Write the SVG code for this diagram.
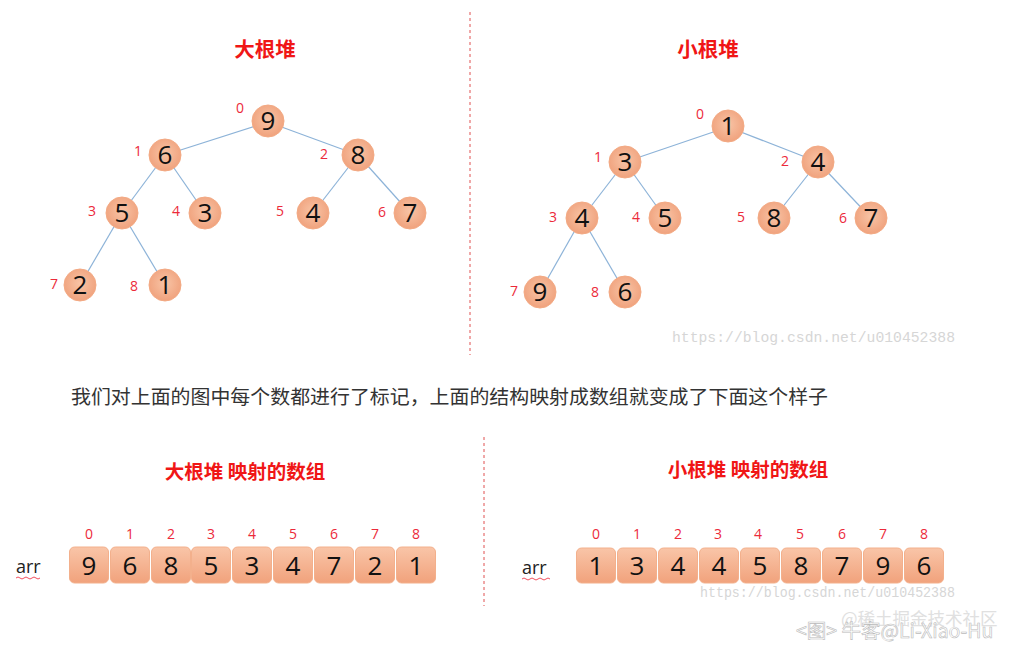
<svg xmlns="http://www.w3.org/2000/svg" width="1018" height="652" viewBox="0 0 1018 652">
<defs>
<radialGradient id="cg" cx="50%" cy="45%" r="55%">
<stop offset="0" stop-color="#f8c4a6"/>
<stop offset="1" stop-color="#f0a27d"/>
</radialGradient>
<linearGradient id="bg" x1="0" y1="0" x2="0" y2="1">
<stop offset="0" stop-color="#f9c5a8"/>
<stop offset="1" stop-color="#f1a27c"/>
</linearGradient>
<style>
.n circle{fill:url(#cg);stroke:#f3aa84;stroke-width:1}
.n text,.b text{font-family:"Open Sans","Liberation Sans",sans-serif;font-size:26px;fill:#111;text-anchor:middle}
.b rect{fill:url(#bg);stroke:#f3b08c;stroke-width:1}
.idx{font-family:"Open Sans","Liberation Sans",sans-serif;font-size:14px;fill:#ec2a3a;text-anchor:middle}
.edge{stroke:#8db3d8;stroke-width:1.2;fill:none}
.title{font-family:"Noto Sans CJK SC",sans-serif;font-weight:bold;fill:#f01616;text-anchor:middle}
.dash{stroke:#e05050;stroke-width:1;stroke-dasharray:3 3}
.wm{font-family:"Liberation Mono",monospace;font-size:14.7px;fill:#d6d6d6}
.arr{font-family:"Open Sans","Liberation Sans",sans-serif;font-size:18px;fill:#222}
</style>
</defs>
<rect width="1018" height="652" fill="#fff"/>
<line class="dash" x1="470" y1="12" x2="470" y2="355"/>
<line class="dash" x1="484" y1="437" x2="484" y2="606"/>
<text class="title" x="265" y="57" font-size="20.5">大根堆</text>
<text class="title" x="708" y="57" font-size="20.5">小根堆</text>
<g id="connectors">
<line class="edge" x1="268" y1="122" x2="165" y2="155"/>
<line class="edge" x1="268" y1="122" x2="358" y2="155"/>
<line class="edge" x1="165" y1="155" x2="122" y2="213"/>
<line class="edge" x1="165" y1="155" x2="205" y2="213"/>
<line class="edge" x1="358" y1="155" x2="313" y2="213"/>
<line class="edge" x1="358" y1="155" x2="410" y2="213"/>
<line class="edge" x1="122" y1="213" x2="80" y2="285"/>
<line class="edge" x1="122" y1="213" x2="165" y2="285"/>
<line class="edge" x1="728" y1="127" x2="625" y2="162"/>
<line class="edge" x1="728" y1="127" x2="818" y2="162"/>
<line class="edge" x1="625" y1="162" x2="582" y2="218"/>
<line class="edge" x1="625" y1="162" x2="665" y2="218"/>
<line class="edge" x1="818" y1="162" x2="774" y2="218"/>
<line class="edge" x1="818" y1="162" x2="871" y2="218"/>
<line class="edge" x1="582" y1="218" x2="540" y2="292"/>
<line class="edge" x1="582" y1="218" x2="625" y2="292"/>
</g>
<g id="maxheap">
<g id="L0" class="n"><circle cx="268" cy="121" r="16"/><text x="268" y="130">9</text></g>
<g id="L1" class="n"><circle cx="165" cy="155" r="16"/><text x="165" y="164">6</text></g>
<g id="L2" class="n"><circle cx="358" cy="155" r="16"/><text x="358" y="164">8</text></g>
<g id="L3" class="n"><circle cx="122" cy="213" r="16"/><text x="122" y="222">5</text></g>
<g id="L4" class="n"><circle cx="205" cy="213" r="16"/><text x="205" y="222">3</text></g>
<g id="L5" class="n"><circle cx="313" cy="213" r="16"/><text x="313" y="222">4</text></g>
<g id="L6" class="n"><circle cx="410" cy="213" r="16"/><text x="410" y="222">7</text></g>
<g id="L7" class="n"><circle cx="80" cy="285" r="16"/><text x="80" y="294">2</text></g>
<g id="L8" class="n"><circle cx="165" cy="285" r="16"/><text x="165" y="294">1</text></g>
<text class="idx" x="240" y="113">0</text>
<text class="idx" x="138" y="156">1</text>
<text class="idx" x="324" y="159">2</text>
<text class="idx" x="92" y="216">3</text>
<text class="idx" x="176" y="216">4</text>
<text class="idx" x="280" y="216">5</text>
<text class="idx" x="382" y="217">6</text>
<text class="idx" x="54" y="289">7</text>
<text class="idx" x="134" y="291">8</text>
</g>
<g id="minheap">
<g id="R0" class="n"><circle cx="728" cy="126" r="16"/><text x="728" y="135">1</text></g>
<g id="R1" class="n"><circle cx="625" cy="162" r="16"/><text x="625" y="171">3</text></g>
<g id="R2" class="n"><circle cx="818" cy="162" r="16"/><text x="818" y="171">4</text></g>
<g id="R3" class="n"><circle cx="582" cy="218" r="16"/><text x="582" y="227">4</text></g>
<g id="R4" class="n"><circle cx="665" cy="218" r="16"/><text x="665" y="227">5</text></g>
<g id="R5" class="n"><circle cx="774" cy="218" r="16"/><text x="774" y="227">8</text></g>
<g id="R6" class="n"><circle cx="871" cy="218" r="16"/><text x="871" y="227">7</text></g>
<g id="R7" class="n"><circle cx="540" cy="292" r="16"/><text x="540" y="301">9</text></g>
<g id="R8" class="n"><circle cx="625" cy="292" r="16"/><text x="625" y="301">6</text></g>
<text class="idx" x="700" y="119">0</text>
<text class="idx" x="598" y="162">1</text>
<text class="idx" x="785" y="166">2</text>
<text class="idx" x="553" y="222">3</text>
<text class="idx" x="636" y="222">4</text>
<text class="idx" x="741" y="222">5</text>
<text class="idx" x="843" y="223">6</text>
<text class="idx" x="514" y="296">7</text>
<text class="idx" x="595" y="297">8</text>
</g>
<text class="wm" x="672" y="342" textLength="283" lengthAdjust="spacingAndGlyphs">https://blog.csdn.net/u010452388</text>
<text x="71" y="404" font-family="Noto Sans CJK SC,sans-serif" font-size="19.5" fill="#333" textLength="757" lengthAdjust="spacingAndGlyphs">我们对上面的图中每个数都进行了标记，上面的结构映射成数组就变成了下面这个样子</text>
<text class="title" x="245" y="479" font-size="19.5">大根堆 映射的数组</text>
<text class="title" x="748" y="477" font-size="19.5">小根堆 映射的数组</text>
<g id="arrL">
<text class="arr" x="16" y="573">arr</text>
<path d="M16 578 q2 -2 4 0 t4 0 t4 0 t4 0 t4 0 t4 0" stroke="#e23" stroke-width="0.8" fill="none"/>
<g class="idx">
<text x="89" y="539">0</text><text x="130" y="539">1</text><text x="171" y="539">2</text><text x="211" y="539">3</text><text x="252" y="539">4</text><text x="293" y="539">5</text><text x="334" y="539">6</text><text x="375" y="539">7</text><text x="416" y="539">8</text>
</g>
<g class="b">
<rect x="69.5" y="547" width="39" height="36" rx="5"/><text x="89" y="575">9</text>
<rect x="110.5" y="547" width="39" height="36" rx="5"/><text x="130" y="575">6</text>
<rect x="151.5" y="547" width="39" height="36" rx="5"/><text x="171" y="575">8</text>
<rect x="191.5" y="547" width="39" height="36" rx="5"/><text x="211" y="575">5</text>
<rect x="232.5" y="547" width="39" height="36" rx="5"/><text x="252" y="575">3</text>
<rect x="273.5" y="547" width="39" height="36" rx="5"/><text x="293" y="575">4</text>
<rect x="314.5" y="547" width="39" height="36" rx="5"/><text x="334" y="575">7</text>
<rect x="355.5" y="547" width="39" height="36" rx="5"/><text x="375" y="575">2</text>
<rect x="396.5" y="547" width="39" height="36" rx="5"/><text x="416" y="575">1</text>
</g>
</g>
<g id="arrR">
<text class="arr" x="522" y="574">arr</text>
<path d="M522 579 q2 -2 4 0 t4 0 t4 0 t4 0 t4 0 t4 0 t4 0" stroke="#e23" stroke-width="0.8" fill="none"/>
<g class="idx">
<text x="596" y="539">0</text><text x="637" y="539">1</text><text x="678" y="539">2</text><text x="718" y="539">3</text><text x="758" y="539">4</text><text x="800" y="539">5</text><text x="842" y="539">6</text><text x="883" y="539">7</text><text x="924" y="539">8</text>
</g>
<g class="b">
<rect x="576.5" y="548" width="39" height="35" rx="5"/><text x="596" y="575">1</text>
<rect x="617.5" y="548" width="39" height="35" rx="5"/><text x="637" y="575">3</text>
<rect x="658.5" y="548" width="39" height="35" rx="5"/><text x="678" y="575">4</text>
<rect x="699.5" y="548" width="39" height="35" rx="5"/><text x="719" y="575">4</text>
<rect x="740.5" y="548" width="39" height="35" rx="5"/><text x="760" y="575">5</text>
<rect x="781.5" y="548" width="39" height="35" rx="5"/><text x="801" y="575">8</text>
<rect x="822.5" y="548" width="39" height="35" rx="5"/><text x="842" y="575">7</text>
<rect x="863.5" y="548" width="39" height="35" rx="5"/><text x="883" y="575">9</text>
<rect x="904.5" y="548" width="39" height="35" rx="5"/><text x="924" y="575">6</text>
</g>
</g>
<text class="wm" x="700" y="597" textLength="255" lengthAdjust="spacingAndGlyphs">https://blog.csdn.net/u010452388</text>
<text x="841" y="625" font-family="Noto Sans CJK SC,sans-serif" font-size="17.5" fill="#e0e0e0">@稀土掘金技术社区</text>
<text x="796" y="638" font-family="Noto Sans CJK SC,sans-serif" font-size="19.5" fill="#fff" stroke="#bbb" stroke-width="0.6">&lt;图&gt; 牛客@Li-Xiao-Hu</text>
</svg>
